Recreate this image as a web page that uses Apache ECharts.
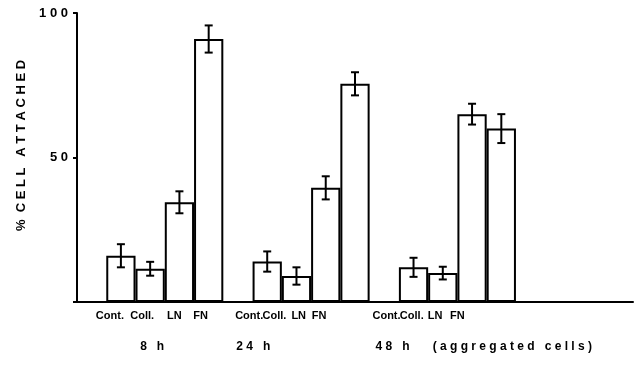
<!DOCTYPE html>
<html>
<head>
<meta charset="utf-8">
<script src="https://cdn.jsdelivr.net/npm/echarts@6/dist/echarts.min.js"></script>
<style>
  html, body { margin: 0; padding: 0; background: #fff; }
  #chart { width: 642px; height: 366px; }
</style>
</head>
<body>
<div id="chart"></div>
<script>
// treatments inside each time group
const treatments = ['Cont.', 'Coll.', 'LN', 'FN'];
const times = ['8 h', '24 h', '48 h'];
const note = '(aggregated cells)';

// % cell attached, one value per time (8 h, 24 h, 48 h)
const contVals = [16, 14, 12];
const collVals = [11.5, 9, 10];
const lnVals = [34.5, 39.5, 65];
const fnVals = [91, 75.5, 60];
// error bar half heights
const contErr = [4, 3.5, 3.3];
const collErr = [2.4, 3, 2.2];
const lnErr = [3.8, 4, 3.6];
const fnErr = [4.7, 4, 5];

const yTicks = [0, 50, 100];

// slot layout on the category axis: one slot per bar, empty slots between groups
const slotCount = 19;
const groupStart = [1, 6, 11];
const timeSlot = [2, 6, 11];
const noteSlot = 14;
// the print puts the labels a bit left of the bars
const treatShift = [[-11, -8, -5, -8], [-18, -22, -27, -36], [-27, -31, -37, -44]];
const timeShift = [2, -14, -21];
const noteShift = 11;

const values = [contVals, collVals, lnVals, fnVals];
const errs = [contErr, collErr, lnErr, fnErr];

let slotLabels = new Array(slotCount).fill('');
let slotTimes = new Array(slotCount).fill('');
let shiftA = new Array(slotCount).fill(0);
let shiftB = new Array(slotCount).fill(0);
let barData = new Array(slotCount).fill('-');
let errData = [];

times.forEach((t, g) => {
  treatments.forEach((tr, k) => {
    const s = groupStart[g] + k;
    slotLabels[s] = tr;
    shiftA[s] = treatShift[g][k];
    barData[s] = values[k][g];
    errData.push([s, values[k][g], errs[k][g]]);
  });
  slotTimes[timeSlot[g]] = t;
  shiftB[timeSlot[g]] = timeShift[g];
});
slotTimes[noteSlot] = note;
shiftB[noteSlot] = noteShift;

const font = { fontFamily: 'Liberation Sans, Arial, sans-serif', fontWeight: 'bold', color: '#000' };

function richFor(shifts, size) {
  let rich = {};
  shifts.forEach((s, i) => {
    rich['s' + i] = Object.assign({}, font, {
      fontSize: size,
      padding: s < 0 ? [0, -2 * s, 0, 0] : [0, 0, 0, 2 * s]
    });
  });
  return rich;
}

function spaced(str) {
  return str.split('').join(' ');
}

let chart = echarts.init(document.getElementById('chart'));
chart.setOption({
  animation: false,
  backgroundColor: '#fff',
  grid: { left: 77, right: 9, top: 13, bottom: 64 },
  xAxis: [
    {
      type: 'category',
      data: slotLabels.map((l, i) => i),
      axisLine: { lineStyle: { color: '#000', width: 2 } },
      axisTick: { show: false },
      axisLabel: {
        interval: 0,
        margin: 8,
        formatter: (v, i) => slotLabels[i] ? '{s' + i + '|' + slotLabels[i] + '}' : '',
        rich: richFor(shiftA, 11)
      }
    },
    {
      type: 'category',
      position: 'bottom',
      data: slotTimes.map((l, i) => i),
      axisLine: { show: false },
      axisTick: { show: false },
      axisLabel: {
        interval: 0,
        margin: 39,
        formatter: (v, i) => slotTimes[i] ? '{s' + i + '|' + spaced(slotTimes[i]) + '}' : '',
        rich: richFor(shiftB, 12)
      }
    }
  ],
  yAxis: {
    type: 'value',
    min: yTicks[0],
    max: yTicks[yTicks.length - 1],
    interval: yTicks[1] - yTicks[0],
    name: '%  C E L L   A T T A C H E D',
    nameLocation: 'middle',
    nameRotate: 90,
    nameGap: 49,
    nameTextStyle: Object.assign({}, font, { fontSize: 13, padding: [0, 0, 0, 24] }),
    axisLine: { show: true, lineStyle: { color: '#000', width: 2 } },
    axisTick: { show: true, length: 4, lineStyle: { color: '#000', width: 2 } },
    splitLine: { show: false },
    axisLabel: Object.assign({}, font, {
      fontSize: 13,
      margin: 9,
      formatter: v => v === 0 ? '' : spaced(String(v))
    })
  },
  series: [
    {
      type: 'bar',
      data: barData,
      barWidth: '100%',
      barCategoryGap: 0,
      itemStyle: { color: '#fff', borderColor: '#000', borderWidth: 2 },
      silent: true
    },
    {
      type: 'custom',
      data: errData,
      encode: { x: 0, y: 1 },
      silent: true,
      z: 5,
      renderItem: function (params, api) {
        const i = api.value(0), v = api.value(1), e = api.value(2);
        const hi = api.coord([i, v + e]);
        const lo = api.coord([i, v - e]);
        const cap = 4;
        const style = { stroke: '#000', lineWidth: 2 };
        return {
          type: 'group',
          children: [
            { type: 'line', shape: { x1: hi[0], y1: hi[1], x2: lo[0], y2: lo[1] }, style: style },
            { type: 'line', shape: { x1: hi[0] - cap, y1: hi[1], x2: hi[0] + cap, y2: hi[1] }, style: style },
            { type: 'line', shape: { x1: lo[0] - cap, y1: lo[1], x2: lo[0] + cap, y2: lo[1] }, style: style }
          ]
        };
      }
    }
  ]
});
window.addEventListener('resize', function () { chart.resize(); });
</script>
</body>
</html>
